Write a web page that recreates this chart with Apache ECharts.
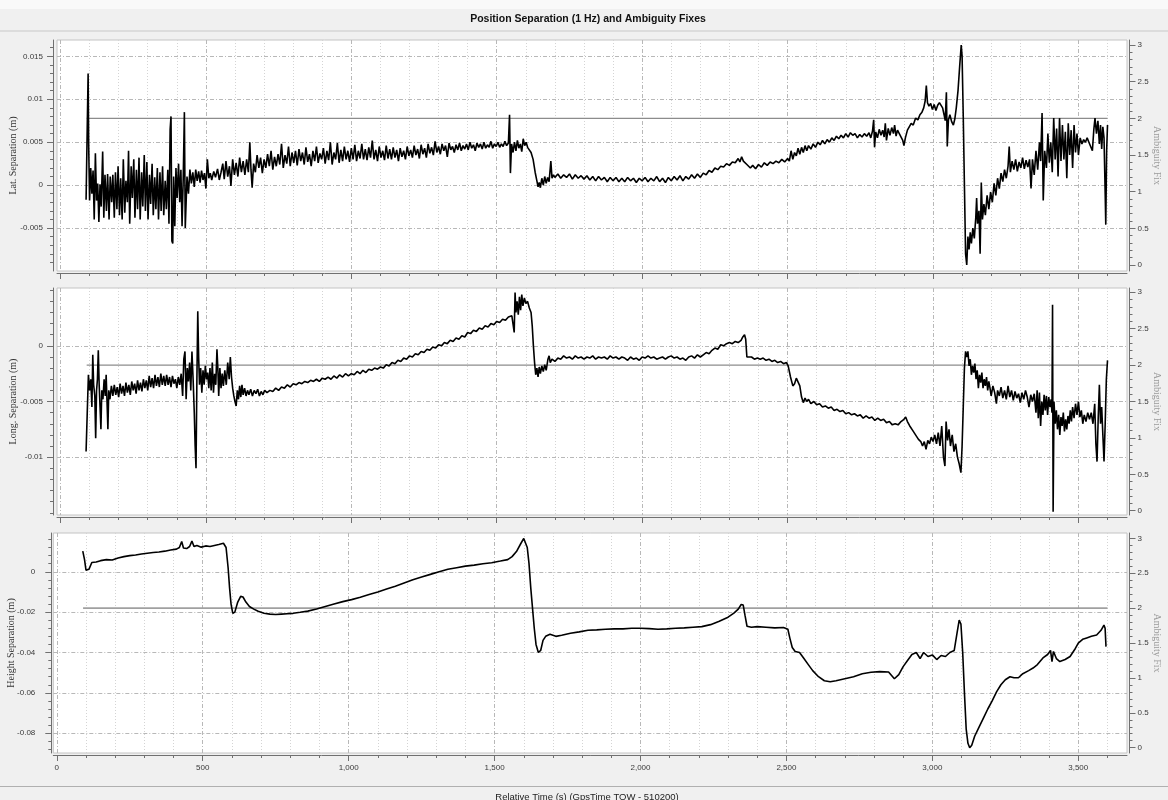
<!DOCTYPE html>
<html><head><meta charset="utf-8">
<script src="https://cdn.jsdelivr.net/npm/echarts@6/dist/echarts.min.js"></script>
<style>html,body{margin:0;padding:0;background:#f0f0f0}#c{width:1168px;height:800px}</style>
</head><body><div id="c"></div><script>
// ---------------- DATA ----------------
const chartTitle = 'Position Separation (1 Hz) and Ambiguity Fixes';
const xTitle = 'Relative Time (s) (GpsTime TOW - 510200)';
const panelNames = ['Lat. Separation (m)', 'Long. Separation (m)', 'Height Separation (m)'];
const rightName = 'Ambiguity Fix';

const xTicks = [0, 500, 1000, 1500, 2000, 2500, 3000, 3500];
const xTickLabels = ['0', '500', '1,000', '1,500', '2,000', '2,500', '3,000', '3,500'];
const latTicks = [-0.005, 0, 0.005, 0.01, 0.015];
const latTickLabels = ['-0.005', '0', '0.005', '0.01', '0.015'];
const lonTicks = [-0.01, -0.005, 0];
const lonTickLabels = ['-0.01', '-0.005', '0'];
const hgtTicks = [-0.08, -0.06, -0.04, -0.02, 0];
const hgtTickLabels = ['-0.08', '-0.06', '-0.04', '-0.02', '0'];
const ambTicks = [0, 0.5, 1, 1.5, 2, 2.5, 3];
const ambTickLabels = ['0', '0.5', '1', '1.5', '2', '2.5', '3'];

// Ambiguity fix (right axis)
const ambFix = [[90, 2], [3600, 2]];

// Lat. separation [time s, metres]
const latData = [
[88,-0.0017],[92,0.0068],[95,0.0130],[97,0.0045],[100,-0.0018],[104,0.0020],[108,-0.0010],[112,0.0017],[116,-0.0040],[120,0.0037],
[124,-0.0018],[128,0.0002],[132,-0.0043],[136,0.0001],[140,-0.0025],[145,0.0039],[149,-0.0038],[153,0.0012],[158,-0.0030],[162,0.0013],
[167,-0.0040],[171,0.0010],[176,-0.0020],[180,0.0012],[185,-0.0038],[189,0.0015],[194,-0.0028],[198,0.0022],[203,-0.0035],[207,0.0008],
[212,-0.0040],[216,0.0030],[221,-0.0032],[225,0.0005],[230,-0.0020],[234,0.0040],[238,-0.0045],[243,0.0022],[247,-0.0015],[252,0.0030],
[256,-0.0038],[261,0.0018],[265,-0.0028],[270,0.0032],[274,-0.0040],[279,0.0015],[283,-0.0025],[288,0.0035],[292,-0.0030],[297,0.0027],
[301,-0.0040],[306,0.0012],[310,-0.0022],[315,0.0025],[319,-0.0035],[324,0.0009],[328,-0.0028],[333,0.0020],[337,-0.0040],[342,0.0015],
[346,-0.0030],[351,0.0022],[355,-0.0035],[360,0.0005],[364,-0.0028],[369,0.0018],[373,-0.0045],[377,0.0065],[380,0.0080],[383,-0.0065],
[386,-0.0068],[389,0.0010],[393,-0.0048],[397,0.0020],[401,-0.0015],[406,0.0025],[410,-0.0020],[414,0.0018],[418,-0.0048],[422,0.0008],
[426,0.0085],[429,-0.0050],[432,-0.0049],[435,0.0010],[440,-0.0010],[445,0.0018],[450,0.0002],[455,0.0015],[460,-0.0002],[465,0.0018],
[470,0.0005],[475,0.0016],[480,0.0003],[485,0.0017],[490,0.0006],[495,0.0014],[500,-0.0004],[505,0.0030],[510,0.0008],[515,0.0014],
[520,0.0006],[527,0.0016],[533,0.0009],[540,0.0019],[546,0.0006],[552,0.0015],[558,0.0025],[563,0.0007],[569,0.0028],[575,0.0010],
[581,0.0022],[586,-0.0001],[592,0.0030],[598,0.0012],[604,0.0026],[610,0.0010],[616,0.0032],[622,0.0015],[628,0.0028],[634,0.0012],
[640,0.0030],[646,0.0015],[651,0.0050],[655,0.0018],[659,-0.0003],[664,0.0025],[670,0.0015],[676,0.0035],[682,0.0020],[688,0.0032],
[694,0.0014],[700,0.0030],[706,0.0020],[712,0.0036],[718,0.0022],[724,0.0040],[730,0.0018],[736,0.0033],[742,0.0022],[748,0.0036],
[754,0.0024],[760,0.0048],[766,0.0020],[772,0.0035],[778,0.0025],[784,0.0045],[790,0.0022],[796,0.0038],[802,0.0026],[808,0.0040],
[814,0.0023],[820,0.0042],[826,0.0028],[832,0.0038],[838,0.0024],[844,0.0044],[850,0.0027],[856,0.0036],[862,0.0022],[868,0.0040],
[874,0.0028],[880,0.0045],[886,0.0026],[892,0.0037],[898,0.0030],[904,0.0043],[910,0.0025],[916,0.0040],[922,0.0029],[928,0.0050],
[934,0.0024],[940,0.0038],[946,0.0030],[952,0.0049],[958,0.0026],[964,0.0041],[970,0.0028],[976,0.0045],[982,0.0030],[988,0.0040],
[994,0.0027],[1000,0.0043],[1006,0.0030],[1012,0.0047],[1018,0.0028],[1024,0.0040],[1030,0.0031],[1036,0.0048],[1042,0.0030],[1048,0.0042],
[1054,0.0029],[1060,0.0044],[1066,0.0032],[1072,0.0052],[1078,0.0030],[1084,0.0041],[1090,0.0028],[1096,0.0045],[1102,0.0032],[1108,0.0040],
[1114,0.0029],[1120,0.0046],[1126,0.0031],[1132,0.0042],[1138,0.0030],[1144,0.0044],[1150,0.0032],[1156,0.0041],[1162,0.0028],[1168,0.0043],
[1174,0.0033],[1180,0.0040],[1186,0.0030],[1192,0.0045],[1198,0.0034],[1204,0.0041],[1210,0.0032],[1216,0.0046],[1222,0.0035],[1228,0.0042],
[1234,0.0031],[1240,0.0047],[1246,0.0036],[1252,0.0043],[1258,0.0032],[1264,0.0048],[1270,0.0037],[1276,0.0044],[1282,0.0035],[1288,0.0051],
[1294,0.0038],[1300,0.0045],[1306,0.0036],[1312,0.0048],[1318,0.0040],[1324,0.0046],[1330,0.0033],[1336,0.0049],[1342,0.0041],[1348,0.0045],
[1354,0.0038],[1360,0.0047],[1366,0.0041],[1372,0.0049],[1378,0.0040],[1384,0.0046],[1390,0.0042],[1396,0.0048],[1402,0.0041],[1408,0.0050],
[1414,0.0043],[1420,0.0047],[1426,0.0040],[1432,0.0049],[1438,0.0044],[1444,0.0048],[1450,0.0042],[1456,0.0050],[1462,0.0043],[1468,0.0047],
[1474,0.0044],[1480,0.0051],[1486,0.0043],[1492,0.0048],[1498,0.0045],[1504,0.0050],[1510,0.0044],[1516,0.0048],[1522,0.0045],[1528,0.0051],
[1534,0.0046],[1540,0.0049],[1544,0.0082],[1547,0.0014],[1551,0.0048],[1556,0.0038],[1561,0.0050],[1566,0.0040],[1571,0.0052],[1576,0.0043],
[1581,0.0048],[1586,0.0039],[1591,0.0054],[1596,0.0046],[1601,0.0050],[1606,0.0044],[1611,0.0046],[1618,0.0038],[1625,0.0030],[1632,0.0015],
[1638,0.0005],[1642,-0.0002],[1646,0.0003],[1650,-0.0003],[1655,0.0008],[1660,0.0000],[1665,0.0010],[1670,0.0002],[1675,0.0009],[1680,0.0004],
[1686,0.0028],[1690,0.0008],[1695,0.0012],[1700,0.0009],[1710,0.0013],[1720,0.0008],[1730,0.0012],[1740,0.0009],[1750,0.0013],[1760,0.0007],
[1770,0.0012],[1780,0.0008],[1790,0.0011],[1800,0.0007],[1810,0.0011],[1820,0.0006],[1830,0.0010],[1840,0.0005],[1850,0.0010],[1860,0.0006],
[1870,0.0009],[1880,0.0004],[1890,0.0009],[1900,0.0005],[1910,0.0009],[1920,0.0004],[1930,0.0008],[1940,0.0004],[1950,0.0009],[1960,0.0005],
[1970,0.0008],[1980,0.0003],[1990,0.0008],[2000,0.0005],[2010,0.0009],[2020,0.0004],[2030,0.0008],[2040,0.0005],[2050,0.0010],[2060,0.0004],
[2070,0.0008],[2080,0.0003],[2090,0.0009],[2100,0.0005],[2110,0.0010],[2120,0.0006],[2130,0.0011],[2140,0.0005],[2150,0.0010],[2160,0.0007],
[2170,0.0012],[2180,0.0008],[2190,0.0013],[2200,0.0009],[2210,0.0014],[2220,0.0012],[2230,0.0017],[2240,0.0015],[2250,0.0020],[2260,0.0018],
[2270,0.0022],[2280,0.0021],[2290,0.0025],[2300,0.0023],[2310,0.0027],[2320,0.0026],[2330,0.0031],[2336,0.0027],[2342,0.0033],[2348,0.0028],
[2354,0.0030],[2360,0.0024],[2366,0.0025],[2372,0.0020],[2380,0.0023],[2390,0.0019],[2400,0.0024],[2410,0.0021],[2420,0.0026],[2430,0.0023],
[2440,0.0027],[2450,0.0025],[2460,0.0028],[2470,0.0026],[2480,0.0030],[2490,0.0027],[2500,0.0031],[2506,0.0028],[2512,0.0040],[2518,0.0030],
[2524,0.0038],[2530,0.0034],[2536,0.0043],[2542,0.0036],[2548,0.0044],[2554,0.0038],[2560,0.0046],[2566,0.0040],[2572,0.0046],[2580,0.0042],
[2588,0.0048],[2596,0.0044],[2604,0.0050],[2612,0.0047],[2620,0.0052],[2628,0.0048],[2636,0.0053],[2644,0.0050],[2652,0.0055],[2660,0.0052],
[2668,0.0057],[2676,0.0054],[2684,0.0058],[2692,0.0055],[2700,0.0060],[2708,0.0056],[2716,0.0061],[2724,0.0058],[2732,0.0060],[2740,0.0055],
[2748,0.0059],[2756,0.0056],[2764,0.0060],[2772,0.0057],[2780,0.0061],[2786,0.0055],[2792,0.0063],[2796,0.0076],[2799,0.0044],[2803,0.0062],
[2809,0.0055],[2815,0.0065],[2821,0.0058],[2827,0.0064],[2832,0.0056],[2836,0.0072],[2840,0.0052],[2846,0.0066],[2852,0.0058],[2858,0.0067],
[2864,0.0060],[2868,0.0070],[2873,0.0057],[2878,0.0064],[2884,0.0060],[2890,0.0062],[2896,0.0052],[2900,0.0046],[2905,0.0055],[2912,0.0064],
[2918,0.0062],[2925,0.0072],[2932,0.0070],[2940,0.0078],[2948,0.0076],[2955,0.0082],[2962,0.0085],[2968,0.0090],[2973,0.0098],[2977,0.0116],
[2981,0.0096],[2986,0.0092],[2992,0.0095],[2998,0.0088],[3004,0.0094],[3010,0.0087],[3016,0.0093],[3022,0.0096],[3028,0.0098],[3033,0.0090],
[3038,0.0082],[3042,0.0075],[3046,0.0108],[3049,0.0045],[3053,0.0076],[3058,0.0082],[3064,0.0074],[3070,0.0070],[3075,0.0077],[3080,0.0090],
[3086,0.0110],[3092,0.0140],[3097,0.0163],[3100,0.0150],[3104,0.0080],[3108,0.0000],[3112,-0.0080],[3116,-0.0093],[3120,-0.0060],[3124,-0.0075],
[3128,-0.0055],[3132,-0.0068],[3137,-0.0050],[3142,-0.0062],[3147,-0.0038],[3150,-0.0015],[3153,-0.0045],[3158,-0.0030],[3162,-0.0080],[3166,0.0003],
[3170,-0.0040],[3175,-0.0022],[3180,-0.0035],[3186,-0.0012],[3192,-0.0028],[3198,-0.0008],[3204,-0.0020],[3210,0.0002],[3216,-0.0012],[3222,0.0008],
[3228,-0.0004],[3234,0.0014],[3240,0.0004],[3246,0.0018],[3252,0.0008],[3258,0.0022],[3262,0.0045],[3266,0.0015],[3272,0.0028],[3278,0.0018],
[3284,0.0030],[3290,0.0016],[3296,0.0027],[3302,0.0020],[3308,0.0032],[3314,0.0019],[3320,0.0029],[3326,0.0021],[3332,0.0030],[3337,-0.0004],
[3342,0.0030],[3348,0.0012],[3354,0.0040],[3360,0.0018],[3366,0.0050],[3370,0.0028],[3375,0.0084],[3379,-0.0018],[3384,0.0040],[3390,0.0020],
[3395,0.0060],[3400,0.0026],[3405,0.0050],[3410,0.0015],[3415,0.0078],[3420,0.0030],[3425,0.0066],[3430,0.0010],[3435,0.0078],[3440,0.0028],
[3445,0.0070],[3450,0.0030],[3455,0.0062],[3460,0.0008],[3465,0.0072],[3470,0.0035],[3475,0.0064],[3480,0.0020],[3485,0.0070],[3490,0.0038],
[3495,0.0060],[3500,0.0035],[3506,0.0055],[3512,0.0048],[3518,0.0053],[3524,0.0050],[3530,0.0055],[3536,0.0050],[3542,0.0052],[3548,0.0040],
[3553,0.0065],[3557,0.0078],[3562,0.0060],[3567,0.0075],[3572,0.0048],[3576,0.0070],[3580,0.0042],[3584,0.0068],[3588,0.0055],[3592,-0.0010],
[3594,-0.0046],[3597,0.0040],[3600,0.0070]
];

// Long. separation [time s, metres]
const lonData = [
[88,-0.0095],[92,-0.0060],[96,-0.0026],[100,-0.0040],[104,-0.0030],[108,-0.0055],[111,-0.0008],[114,-0.0035],[118,-0.0045],[121,-0.0083],
[124,-0.0040],[127,-0.0030],[130,-0.0004],[133,-0.0035],[136,-0.0055],[139,-0.0075],[142,-0.0040],[146,-0.0048],[150,-0.0030],[154,-0.0045],
[157,-0.0026],[160,-0.0050],[163,-0.0075],[166,-0.0040],[170,-0.0048],[175,-0.0036],[180,-0.0045],[185,-0.0035],[190,-0.0044],[195,-0.0037],
[200,-0.0046],[205,-0.0034],[210,-0.0043],[215,-0.0036],[220,-0.0045],[225,-0.0033],[230,-0.0042],[235,-0.0035],[240,-0.0044],[245,-0.0032],
[250,-0.0040],[255,-0.0034],[260,-0.0043],[265,-0.0031],[270,-0.0040],[275,-0.0033],[280,-0.0041],[285,-0.0030],[290,-0.0038],[295,-0.0031],
[300,-0.0040],[305,-0.0027],[310,-0.0037],[315,-0.0029],[320,-0.0038],[325,-0.0026],[330,-0.0036],[335,-0.0028],[340,-0.0037],[345,-0.0025],
[350,-0.0035],[355,-0.0027],[360,-0.0036],[365,-0.0026],[370,-0.0035],[375,-0.0028],[380,-0.0037],[385,-0.0027],[390,-0.0034],[395,-0.0030],
[400,-0.0038],[405,-0.0028],[410,-0.0035],[415,-0.0025],[420,-0.0045],[424,-0.0012],[428,-0.0005],[432,-0.0048],[436,-0.0020],[440,-0.0032],
[444,-0.0015],[448,-0.0040],[452,-0.0005],[456,-0.0030],[460,-0.0060],[463,-0.0090],[466,-0.0110],[469,-0.0030],[472,0.0031],[475,-0.0010],
[478,-0.0035],[482,-0.0020],[486,-0.0042],[490,-0.0022],[494,-0.0035],[498,-0.0018],[502,-0.0030],[506,-0.0024],[510,-0.0038],[514,-0.0020],
[518,-0.0040],[522,-0.0015],[526,-0.0042],[530,-0.0025],[534,-0.0035],[538,-0.0003],[541,-0.0020],[544,-0.0045],[548,-0.0020],[552,-0.0038],
[556,-0.0025],[560,-0.0036],[565,-0.0022],[570,-0.0035],[575,-0.0015],[580,-0.0030],[584,-0.0010],[588,-0.0028],[592,-0.0038],[596,-0.0045],
[600,-0.0050],[604,-0.0054],[608,-0.0040],[612,-0.0048],[616,-0.0036],[620,-0.0046],[624,-0.0035],[628,-0.0044],[633,-0.0038],[638,-0.0045],
[643,-0.0040],[648,-0.0044],[654,-0.0039],[660,-0.0045],[666,-0.0040],[672,-0.0043],[678,-0.0039],[684,-0.0045],[690,-0.0041],[696,-0.0044],
[702,-0.0040],[710,-0.0042],[720,-0.0040],[730,-0.0041],[740,-0.0038],[750,-0.0040],[760,-0.0037],[770,-0.0038],[780,-0.0035],[790,-0.0037],
[800,-0.0034],[810,-0.0035],[820,-0.0033],[830,-0.0034],[840,-0.0032],[850,-0.0033],[860,-0.0031],[870,-0.0032],[880,-0.0030],[890,-0.0032],
[900,-0.0029],[910,-0.0030],[920,-0.0028],[930,-0.0030],[940,-0.0027],[950,-0.0029],[960,-0.0026],[970,-0.0028],[980,-0.0025],[990,-0.0027],
[1000,-0.0025],[1010,-0.0026],[1020,-0.0023],[1030,-0.0025],[1040,-0.0022],[1050,-0.0024],[1060,-0.0021],[1070,-0.0022],[1080,-0.0020],[1090,-0.0021],
[1100,-0.0019],[1110,-0.0020],[1120,-0.0017],[1130,-0.0018],[1140,-0.0015],[1150,-0.0016],[1160,-0.0013],[1170,-0.0014],[1180,-0.0011],[1190,-0.0012],
[1200,-0.0009],[1210,-0.0010],[1220,-0.0007],[1230,-0.0008],[1240,-0.0005],[1250,-0.0006],[1260,-0.0003],[1270,-0.0004],[1280,-0.0001],[1290,-0.0002],
[1300,0.0001],[1310,0.0000],[1320,0.0003],[1330,0.0002],[1340,0.0005],[1350,0.0004],[1360,0.0007],[1370,0.0006],[1380,0.0009],[1390,0.0008],
[1400,0.0012],[1410,0.0011],[1420,0.0014],[1430,0.0013],[1440,0.0016],[1450,0.0015],[1460,0.0018],[1470,0.0017],[1480,0.0020],[1490,0.0019],
[1500,0.0022],[1510,0.0021],[1520,0.0024],[1530,0.0023],[1540,0.0026],[1546,0.0025],[1552,0.0027],[1556,0.0026],[1560,0.0012],[1563,0.0048],
[1566,0.0030],[1570,0.0040],[1574,0.0028],[1578,0.0044],[1582,0.0032],[1586,0.0046],[1590,0.0036],[1595,0.0043],[1600,0.0038],[1606,0.0040],
[1612,0.0034],[1618,0.0030],[1622,0.0018],[1626,0.0000],[1630,-0.0015],[1634,-0.0026],[1638,-0.0020],[1642,-0.0028],[1646,-0.0019],[1650,-0.0025],
[1655,-0.0018],[1660,-0.0023],[1665,-0.0017],[1670,-0.0022],[1676,-0.0012],[1680,-0.0009],[1684,-0.0015],[1690,-0.0012],[1700,-0.0014],[1710,-0.0011],
[1720,-0.0012],[1730,-0.0009],[1740,-0.0011],[1750,-0.0010],[1760,-0.0012],[1770,-0.0009],[1780,-0.0011],[1790,-0.0010],[1800,-0.0012],[1810,-0.0010],
[1820,-0.0011],[1830,-0.0009],[1840,-0.0012],[1850,-0.0010],[1860,-0.0011],[1870,-0.0010],[1880,-0.0012],[1890,-0.0009],[1900,-0.0011],[1910,-0.0010],
[1920,-0.0012],[1930,-0.0010],[1940,-0.0011],[1950,-0.0013],[1960,-0.0010],[1970,-0.0012],[1980,-0.0011],[1990,-0.0013],[2000,-0.0010],[2010,-0.0011],
[2020,-0.0009],[2030,-0.0011],[2040,-0.0010],[2050,-0.0012],[2060,-0.0011],[2070,-0.0010],[2080,-0.0012],[2090,-0.0010],[2100,-0.0009],[2110,-0.0011],
[2120,-0.0010],[2130,-0.0012],[2140,-0.0011],[2150,-0.0013],[2160,-0.0010],[2170,-0.0009],[2180,-0.0011],[2190,-0.0008],[2200,-0.0010],[2210,-0.0008],
[2220,-0.0006],[2230,-0.0007],[2240,-0.0004],[2250,-0.0002],[2260,-0.0003],[2270,0.0001],[2280,0.0000],[2290,0.0002],[2300,0.0003],[2310,0.0002],
[2320,0.0004],[2330,0.0003],[2340,0.0005],[2346,0.0008],[2352,0.0010],[2356,0.0006],[2360,-0.0010],[2366,-0.0011],[2376,-0.0010],[2386,-0.0012],
[2396,-0.0011],[2406,-0.0012],[2416,-0.0011],[2426,-0.0013],[2436,-0.0012],[2446,-0.0014],[2456,-0.0013],[2466,-0.0015],[2476,-0.0014],[2486,-0.0016],
[2496,-0.0015],[2502,-0.0018],[2510,-0.0028],[2518,-0.0036],[2524,-0.0034],[2530,-0.0029],[2536,-0.0028],[2542,-0.0036],[2548,-0.0046],[2554,-0.0051],
[2560,-0.0047],[2566,-0.0050],[2572,-0.0048],[2580,-0.0052],[2590,-0.0050],[2600,-0.0053],[2610,-0.0052],[2620,-0.0055],[2630,-0.0054],[2640,-0.0056],
[2650,-0.0055],[2660,-0.0058],[2670,-0.0057],[2680,-0.0059],[2690,-0.0058],[2700,-0.0061],[2710,-0.0060],[2720,-0.0062],[2730,-0.0061],[2740,-0.0063],
[2750,-0.0062],[2760,-0.0065],[2770,-0.0063],[2780,-0.0065],[2790,-0.0064],[2800,-0.0067],[2810,-0.0065],[2820,-0.0067],[2830,-0.0066],[2840,-0.0069],
[2850,-0.0068],[2860,-0.0071],[2870,-0.0070],[2880,-0.0071],[2890,-0.0068],[2900,-0.0066],[2906,-0.0064],[2912,-0.0068],[2920,-0.0072],[2930,-0.0076],
[2940,-0.0080],[2950,-0.0084],[2958,-0.0086],[2964,-0.0090],[2970,-0.0086],[2976,-0.0093],[2982,-0.0085],[2988,-0.0088],[2994,-0.0082],[3000,-0.0086],
[3006,-0.0080],[3012,-0.0088],[3018,-0.0078],[3024,-0.0090],[3030,-0.0072],[3036,-0.0100],[3041,-0.0108],[3045,-0.0068],[3050,-0.0085],[3055,-0.0075],
[3060,-0.0090],[3066,-0.0080],[3072,-0.0095],[3078,-0.0088],[3084,-0.0100],[3090,-0.0106],[3096,-0.0114],[3100,-0.0090],[3104,-0.0055],[3108,-0.0020],
[3112,-0.0005],[3116,-0.0010],[3120,-0.0005],[3124,-0.0018],[3128,-0.0012],[3132,-0.0026],[3136,-0.0018],[3140,-0.0024],[3144,-0.0016],[3148,-0.0030],
[3152,-0.0022],[3156,-0.0038],[3160,-0.0026],[3164,-0.0033],[3168,-0.0024],[3172,-0.0038],[3176,-0.0030],[3180,-0.0036],[3184,-0.0028],[3188,-0.0040],
[3192,-0.0032],[3196,-0.0038],[3200,-0.0045],[3206,-0.0036],[3212,-0.0042],[3218,-0.0052],[3222,-0.0040],[3228,-0.0045],[3234,-0.0037],[3240,-0.0047],
[3246,-0.0040],[3252,-0.0048],[3258,-0.0036],[3264,-0.0046],[3270,-0.0040],[3276,-0.0049],[3282,-0.0041],[3288,-0.0047],[3294,-0.0043],[3300,-0.0051],
[3306,-0.0042],[3312,-0.0048],[3318,-0.0040],[3324,-0.0046],[3330,-0.0055],[3336,-0.0044],[3342,-0.0050],[3348,-0.0043],[3354,-0.0060],[3358,-0.0040],
[3362,-0.0065],[3366,-0.0042],[3370,-0.0072],[3374,-0.0050],[3378,-0.0062],[3382,-0.0044],[3386,-0.0058],[3390,-0.0045],[3394,-0.0062],[3398,-0.0046],
[3402,-0.0055],[3406,-0.0048],[3409,-0.0060],[3411,0.0037],[3413,-0.0149],[3416,-0.0050],[3420,-0.0070],[3424,-0.0058],[3428,-0.0075],[3432,-0.0062],
[3436,-0.0080],[3440,-0.0064],[3444,-0.0072],[3448,-0.0060],[3452,-0.0077],[3456,-0.0066],[3460,-0.0075],[3464,-0.0063],[3468,-0.0070],[3472,-0.0058],
[3476,-0.0068],[3480,-0.0055],[3485,-0.0065],[3490,-0.0052],[3495,-0.0062],[3500,-0.0050],[3505,-0.0064],[3510,-0.0058],[3515,-0.0070],[3520,-0.0062],
[3526,-0.0068],[3532,-0.0060],[3538,-0.0066],[3544,-0.0060],[3550,-0.0070],[3556,-0.0052],[3560,-0.0088],[3564,-0.0104],[3568,-0.0065],[3572,-0.0035],
[3576,-0.0070],[3580,-0.0055],[3584,-0.0080],[3588,-0.0104],[3592,-0.0070],[3596,-0.0030],[3600,-0.0013]
];

// Height separation [time s, metres]
const hgtData = [
[89,0.0102],[95,0.0060],[100,0.0008],[110,0.0012],[120,0.0046],[135,0.0048],[150,0.0055],[170,0.0060],[190,0.0058],[210,0.0068],
[230,0.0075],[250,0.0080],[270,0.0083],[290,0.0088],[310,0.0092],[330,0.0095],[350,0.0098],[370,0.0102],[390,0.0108],[410,0.0112],
[420,0.0120],[428,0.0150],[434,0.0118],[445,0.0115],[455,0.0125],[463,0.0152],[470,0.0125],[480,0.0130],[495,0.0122],[510,0.0128],
[525,0.0125],[540,0.0130],[555,0.0135],[571,0.0141],[580,0.0120],[587,0.0020],[592,-0.0080],[597,-0.0160],[603,-0.0206],[610,-0.0200],
[620,-0.0150],[630,-0.0122],[638,-0.0125],[648,-0.0150],[660,-0.0172],[675,-0.0185],[690,-0.0196],[710,-0.0206],[730,-0.0210],[750,-0.0212],
[770,-0.0210],[790,-0.0208],[810,-0.0206],[834,-0.0201],[860,-0.0195],[890,-0.0185],[920,-0.0172],[950,-0.0160],[980,-0.0148],[1010,-0.0138],
[1040,-0.0126],[1070,-0.0113],[1100,-0.0100],[1130,-0.0086],[1160,-0.0072],[1190,-0.0056],[1220,-0.0040],[1250,-0.0026],[1280,-0.0013],[1310,0.0000],
[1340,0.0012],[1370,0.0020],[1400,0.0028],[1430,0.0033],[1460,0.0040],[1490,0.0045],[1520,0.0053],[1545,0.0060],[1560,0.0075],[1575,0.0100],
[1590,0.0140],[1600,0.0165],[1606,0.0160],[1612,0.0120],[1618,0.0040],[1624,-0.0080],[1630,-0.0180],[1636,-0.0280],[1642,-0.0360],[1650,-0.0400],
[1658,-0.0390],[1666,-0.0340],[1675,-0.0320],[1690,-0.0310],[1710,-0.0320],[1730,-0.0315],[1760,-0.0305],[1790,-0.0298],[1820,-0.0290],[1850,-0.0288],
[1880,-0.0285],[1910,-0.0283],[1940,-0.0283],[1970,-0.0280],[2000,-0.0280],[2030,-0.0282],[2060,-0.0285],[2090,-0.0283],[2120,-0.0280],[2150,-0.0278],
[2180,-0.0275],[2210,-0.0272],[2240,-0.0262],[2270,-0.0245],[2300,-0.0225],[2320,-0.0205],[2335,-0.0185],[2345,-0.0162],[2352,-0.0165],[2358,-0.0215],
[2365,-0.0270],[2380,-0.0275],[2400,-0.0272],[2430,-0.0275],[2460,-0.0278],[2490,-0.0276],[2505,-0.0285],[2512,-0.0330],[2520,-0.0375],[2530,-0.0395],
[2545,-0.0400],[2560,-0.0430],[2575,-0.0460],[2590,-0.0490],[2610,-0.0520],[2630,-0.0540],[2650,-0.0545],[2670,-0.0540],[2700,-0.0530],[2730,-0.0520],
[2760,-0.0505],[2790,-0.0498],[2820,-0.0495],[2850,-0.0497],[2870,-0.0530],[2885,-0.0510],[2900,-0.0470],[2915,-0.0440],[2930,-0.0410],[2945,-0.0400],
[2958,-0.0430],[2970,-0.0400],[2985,-0.0420],[3000,-0.0412],[3015,-0.0435],[3030,-0.0415],[3045,-0.0420],[3060,-0.0400],[3075,-0.0390],[3085,-0.0300],
[3092,-0.0240],[3098,-0.0260],[3104,-0.0400],[3110,-0.0600],[3116,-0.0780],[3122,-0.0850],[3128,-0.0872],[3135,-0.0860],[3145,-0.0815],[3160,-0.0770],
[3175,-0.0725],[3190,-0.0680],[3205,-0.0640],[3220,-0.0595],[3235,-0.0560],[3250,-0.0535],[3266,-0.0520],[3280,-0.0525],[3295,-0.0525],[3310,-0.0505],
[3330,-0.0490],[3345,-0.0477],[3360,-0.0460],[3379,-0.0427],[3395,-0.0410],[3405,-0.0390],[3410,-0.0445],[3415,-0.0395],[3425,-0.0430],[3437,-0.0445],
[3455,-0.0435],[3472,-0.0420],[3490,-0.0380],[3500,-0.0354],[3515,-0.0335],[3529,-0.0328],[3545,-0.0320],[3563,-0.0313],[3578,-0.0290],[3588,-0.0264],
[3592,-0.0280],[3595,-0.0371]
];

// ---------------- LAYOUT / OPTIONS ----------------
function steps(a, b, s) { const r = []; for (let v = a; v <= b + s / 1000; v += s) r.push(+v.toFixed(6)); return r; }
function labelFmt(ticks, labels) {
  return v => { const i = ticks.findIndex(t => Math.abs(t - v) < 1e-9); return i >= 0 ? labels[i] : ''; };
}
const xMinorTicks = steps(100, 3600, 100).filter(v => v % 500 !== 0);
const ambMinor = steps(0, 3, 0.1);

const panels = [
  { grid: { left: 57, top: 40, width: 1070, height: 231 }, data: latData, ticks: latTicks, labels: latTickLabels,
    minor: steps(-0.009, 0.016, 0.001), yMin: -0.0100, yMax: 0.0169, rMin: -0.082, rMax: 3.068, lOff: 4, lMargin: 10, nameGap: 35 },
  { grid: { left: 57, top: 288, width: 1070, height: 227 }, data: lonData, ticks: lonTicks, labels: lonTickLabels,
    minor: steps(-0.015, 0.005, 0.001), yMin: -0.0152, yMax: 0.0052, rMin: -0.059, rMax: 3.059, lOff: 4, lMargin: 10, nameGap: 35 },
  { grid: { left: 53.3, top: 533, width: 1073.7, height: 220 }, data: hgtData, ticks: hgtTicks, labels: hgtTickLabels,
    minor: steps(-0.088, 0.016, 0.004), yMin: -0.0898, yMax: 0.0192, rMin: -0.076, rMax: 3.076, lOff: 2, lMargin: 16, nameGap: 35 }
];

const tickFont = { fontSize: 8, color: '#3a3a3a', fontFamily: 'Liberation Sans' };
const axisCol = '#707070';
const grids = [], xAxes = [], yAxes = [], series = [];
panels.forEach((p, i) => {
  grids.push(Object.assign({ show: true, backgroundColor: '#ffffff', borderColor: '#c4c4c4', borderWidth: 1,
    containLabel: false, outerBoundsMode: 'none' }, p.grid));
  xAxes.push({
    type: 'value', gridIndex: i, min: -12, max: 3667, position: 'bottom', offset: 2,
    axisLine: { show: true, onZero: false, lineStyle: { color: axisCol } },
    axisTick: { show: true, inside: false, length: 6, customValues: xTicks, lineStyle: { color: axisCol } },
    axisLabel: Object.assign({ show: i === 2, customValues: xTicks, formatter: labelFmt(xTicks, xTickLabels), margin: 9 }, tickFont),
    splitLine: { show: true, lineStyle: { color: '#b8b8b8', width: 1, type: [4, 2, 1, 2] } }
  });
  xAxes.push({
    type: 'value', gridIndex: i, min: -12, max: 3667, position: 'bottom', offset: 2,
    axisLine: { show: false, onZero: false },
    axisTick: { show: true, inside: false, length: 3, customValues: xMinorTicks, lineStyle: { color: axisCol } },
    axisLabel: { show: false },
    splitLine: { show: true, lineStyle: { color: '#d4d4d4', width: 1, type: [1, 2] } }
  });
  yAxes.push({
    type: 'value', gridIndex: i, position: 'left', offset: p.lOff, min: p.yMin, max: p.yMax,
    axisLine: { show: true, onZero: false, lineStyle: { color: axisCol } },
    axisTick: { show: true, inside: false, length: 6, customValues: p.ticks, lineStyle: { color: axisCol } },
    axisLabel: Object.assign({ customValues: p.ticks, formatter: labelFmt(p.ticks, p.labels), margin: p.lMargin }, tickFont),
    splitLine: { show: true, lineStyle: { color: '#b8b8b8', width: 1, type: [4, 2, 1, 2] } },
    name: panelNames[i], nameLocation: 'middle', nameGap: p.nameGap, nameMoveOverlap: false,
    nameTextStyle: { fontFamily: 'Liberation Serif', fontSize: 10, color: '#333' }
  });
  yAxes.push({
    type: 'value', gridIndex: i, position: 'left', offset: p.lOff, min: p.yMin, max: p.yMax,
    axisLine: { show: false, onZero: false }, axisLabel: { show: false }, splitLine: { show: false },
    axisTick: { show: true, inside: false, length: 3, customValues: p.minor, lineStyle: { color: axisCol } }
  });
  yAxes.push({
    type: 'value', gridIndex: i, position: 'right', offset: 2.5, min: p.rMin, max: p.rMax,
    axisLine: { show: true, onZero: false, lineStyle: { color: axisCol } },
    axisTick: { show: true, inside: false, length: 6, customValues: ambTicks, lineStyle: { color: axisCol } },
    axisLabel: Object.assign({ customValues: ambTicks, formatter: labelFmt(ambTicks, ambTickLabels), margin: 8 }, tickFont),
    splitLine: { show: false },
    name: rightName, nameLocation: 'middle', nameGap: 22, nameRotate: -90, nameMoveOverlap: false,
    nameTextStyle: { fontFamily: 'Liberation Serif', fontSize: 10, color: '#9a9a9a' }
  });
  yAxes.push({
    type: 'value', gridIndex: i, position: 'right', offset: 2.5, min: p.rMin, max: p.rMax,
    axisLine: { show: false, onZero: false }, axisLabel: { show: false }, splitLine: { show: false },
    axisTick: { show: true, inside: false, length: 3, customValues: ambMinor, lineStyle: { color: axisCol } }
  });
  series.push({
    type: 'line', xAxisIndex: 2 * i, yAxisIndex: 4 * i + 2, data: ambFix, showSymbol: false, silent: true, z: 2,
    lineStyle: { color: i === 2 ? '#a0a0a0' : '#8c8c8c', width: i === 2 ? 1.6 : 1.2 }
  });
  series.push({
    type: 'line', xAxisIndex: 2 * i, yAxisIndex: 4 * i, data: p.data, showSymbol: false, silent: true, z: 3,
    lineStyle: { color: '#000000', width: 1.6 }
  });
});

const chart = echarts.init(document.getElementById('c'), null, { renderer: 'canvas' });
chart.setOption({
  animation: false,
  backgroundColor: '#f0f0f0',
  grid: grids, xAxis: xAxes, yAxis: yAxes, series: series,
  graphic: [
    { type: 'rect', shape: { x: 0, y: 0, width: 1168, height: 9 }, style: { fill: '#f9f9f9' }, silent: true },
    { type: 'line', shape: { x1: 0, y1: 31, x2: 1168, y2: 31 }, style: { stroke: '#c8c8c8', lineWidth: 1 }, silent: true },
    { type: 'text', x: 588, y: 19, style: { text: chartTitle, fontFamily: 'Liberation Sans', fontWeight: 'bold', fontSize: 10.5, fill: '#111', textAlign: 'center', textVerticalAlign: 'middle' }, silent: true },
    { type: 'line', shape: { x1: 0, y1: 786.5, x2: 1168, y2: 786.5 }, style: { stroke: '#b0b0b0', lineWidth: 1 }, silent: true },
    { type: 'text', x: 587, y: 797, style: { text: xTitle, fontFamily: 'Liberation Sans', fontSize: 9.5, fill: '#222', textAlign: 'center', textVerticalAlign: 'middle' }, silent: true }
  ]
});
</script></body></html>
